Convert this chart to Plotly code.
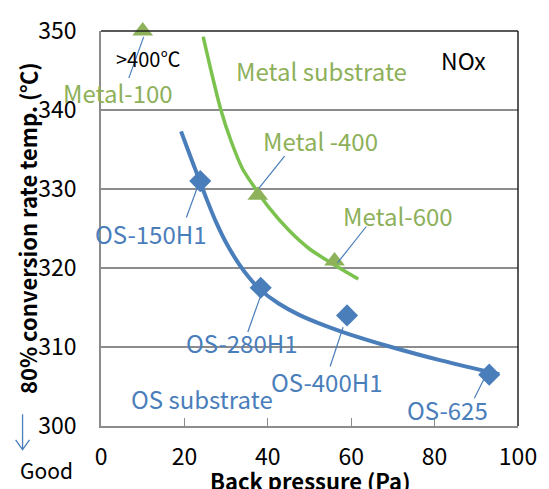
import plotly.graph_objects as go

# Measured samples (back pressure in Pa, 80% NOx conversion temperature in °C)
os_names = ["OS-150H1", "OS-280H1", "OS-400H1", "OS-625"]
os_pressure = [23.8, 38.3, 59.0, 93.1]
os_temp = [331.0, 317.5, 314.0, 306.5]

metal_names = ["Metal-100", "Metal -400", "Metal-600"]
metal_pressure = [10.0, 37.6, 56.0]
metal_temp = [350.0, 329.2, 320.9]

# Trend curves through each substrate family
os_trend_x = [19.2, 21.6, 23.6, 25.2, 27.6, 30.3, 33.1, 35.5, 38.3, 42.6, 47.4,
              53.7, 58.5, 69.6, 81.5, 92.6, 95.5]
os_trend_y = [337.3, 333.9, 331.1, 328.9, 325.8, 322.9, 320.5, 318.8, 317.2, 315.5, 314.1,
              312.7, 311.8, 310.0, 308.3, 306.9, 306.55]
metal_trend_x = [24.5, 26.7, 28.7, 31.1, 33.9, 37.1, 40.2, 45.0, 49.8, 55.3, 61.7]
metal_trend_y = [349.3, 344.3, 340.1, 336.2, 332.6, 330.0, 327.7, 324.8, 322.5, 320.6, 318.6]

x_ticks = [0, 20, 40, 60, 80, 100]
y_ticks = [300, 310, 320, 330, 340, 350]

BLUE = "#4A7EBB"
GREEN_LINE = "#7CC24E"
GREEN_MARK = "#8DB25A"
GREEN_TEXT = "#8DB05A"
FONT = "Noto Sans CJK JP"

W, H = 549, 489
L, R, T, B = 101, 28, 24, 63
PW, PH = W - L - R, H - T - B
X0, X1 = 0, 100
Y0, Y1 = 300, 350


def px_to_paper(px, py):
    return (px - L) / PW, 1 - (py - T) / PH


def dx(p):
    return p * (X1 - X0) / PW


def dy(p):
    return -p * (Y1 - Y0) / PH


fig = go.Figure()

fig.add_trace(go.Scatter(x=os_trend_x, y=os_trend_y, mode="lines",
                         line=dict(color=BLUE, width=4, shape="spline", smoothing=0.8),
                         hoverinfo="skip", showlegend=False))
fig.add_trace(go.Scatter(x=metal_trend_x, y=metal_trend_y, mode="lines",
                         line=dict(color=GREEN_LINE, width=3.5, shape="spline", smoothing=0.8),
                         hoverinfo="skip", showlegend=False))
fig.add_trace(go.Scatter(x=os_pressure, y=os_temp, mode="markers", text=os_names,
                         marker=dict(symbol="diamond", size=17, color=BLUE, line=dict(width=0)),
                         cliponaxis=False, showlegend=False))
fig.add_trace(go.Scatter(x=metal_pressure, y=metal_temp, mode="markers", text=metal_names,
                         marker=dict(symbol="triangle-up", size=18, color=GREEN_MARK, line=dict(width=0)),
                         cliponaxis=False, showlegend=False))

shapes = []
# leader lines: (near-end offset, far-end offset) in pixels from the marker
os_leaders = [((-2, 4), (-14, 37)), ((0, 8), (-13, 45)), ((-4, 12), (-17, 52)), ((-5, 4), (-15, 24))]
metal_leaders = [((1, 6), (-14, 48)), ((1, -7), (27, -40)), ((3, 2), (32, -35))]
for xs, ys, leaders in ((os_pressure, os_temp, os_leaders), (metal_pressure, metal_temp, metal_leaders)):
    for x, y, (near, far) in zip(xs, ys, leaders):
        shapes.append(dict(type="line", xref="x", yref="y",
                           x0=x + dx(near[0]), y0=y + dy(near[1]),
                           x1=x + dx(far[0]), y1=y + dy(far[1]),
                           line=dict(color=BLUE, width=1.2), layer="above"))

# plot-area frame: dark top and right edges
shapes.append(dict(type="line", xref="paper", yref="paper", x0=0, y0=1, x1=1, y1=1,
                   line=dict(color="#222222", width=1.5)))
shapes.append(dict(type="line", xref="paper", yref="paper", x0=1, y0=0, x1=1, y1=1,
                   line=dict(color="#222222", width=1.5)))

# "better" arrow pointing down beside the y axis
ax0, ay0 = px_to_paper(22, 414)
ax1, ay1 = px_to_paper(22, 450)
axl, ayl = px_to_paper(15, 440)
axr, ayr = px_to_paper(29, 440)
shapes.append(dict(type="path", xref="paper", yref="paper",
                   path=f"M{ax0},{ay0} L{ax1},{ay1} M{axl},{ayl} L{ax1},{ay1} L{axr},{ayr}",
                   line=dict(color=BLUE, width=1.3)))

annotations = []


def label(text, px, py, color, size=24, bold=False, angle=0):
    xp, yp = px_to_paper(px, py)
    annotations.append(dict(text=f"<b>{text}</b>" if bold else text, x=xp, y=yp,
                            xref="paper", yref="paper", showarrow=False,
                            xanchor="center", yanchor="middle", textangle=angle,
                            font=dict(family=FONT, size=size, color=color)))


label(os_names[0], 151, 230, BLUE)
label(os_names[1], 243, 341, BLUE)
label(os_names[2], 329, 381, BLUE)
label(os_names[3], 450, 409, BLUE)
label("OS substrate", 203, 398, BLUE)
label(metal_names[0], 118, 87, GREEN_TEXT)
label(metal_names[1], 322, 135, GREEN_TEXT)
label(metal_names[2], 400, 212, GREEN_TEXT)
label("Metal substrate", 323, 64, GREEN_TEXT)
label("&gt;400℃", 148, 52, "black", size=20)
label("NOx", 466, 54, "black", size=23)
label("Good", 46, 471, "black", size=21)
label("Back pressure (Pa)", 311, 481, "black", size=22, bold=True)
label("80% conversion rate temp. (℃)", 26, 225, "black", size=22, bold=True, angle=-90)

fig.update_layout(
    width=W, height=H,
    margin=dict(l=L, r=R, t=T, b=B, pad=0),
    paper_bgcolor="white", plot_bgcolor="white",
    font=dict(family=FONT, color="black"),
    shapes=shapes, annotations=annotations,
    showlegend=False,
)
fig.update_xaxes(range=[X0, X1], tickvals=x_ticks, ticktext=[str(v) for v in x_ticks],
                 showgrid=False, zeroline=False, showline=True, linecolor="#8C8C8C", linewidth=1.5,
                 ticks="inside", ticklen=8, tickcolor="#8C8C8C", tickwidth=1.2,
                 tickfont=dict(family=FONT, size=23, color="black"), ticklabelstandoff=10)
fig.update_yaxes(range=[Y0, Y1], tickvals=y_ticks, ticktext=[str(v) for v in y_ticks],
                 showgrid=True, gridcolor="#8C8C8C", gridwidth=1.5,
                 zeroline=False, showline=True, linecolor="#8C8C8C", linewidth=1.5,
                 ticks="", tickfont=dict(family=FONT, size=23, color="black"), ticklabelstandoff=18)

fig.write_html("out.html")
